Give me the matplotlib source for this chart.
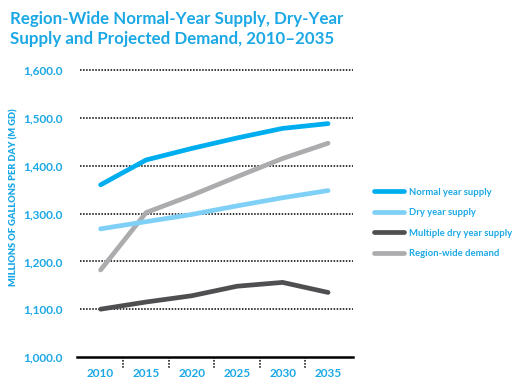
import matplotlib
matplotlib.use('Agg')
import matplotlib.pyplot as plt
from matplotlib.lines import Line2D

years = ['2010', '2015', '2020', '2025', '2030', '2035']
normal_year = [1360, 1412, 1436, 1458, 1478, 1488]
dry_year = [1268, 1283, 1298, 1316, 1333, 1348]
multi_dry_year = [1100, 1115, 1128, 1148, 1156, 1135]
region_demand = [1182, 1302, 1338, 1377, 1415, 1447]

series_names = ['Normal year supply', 'Dry year supply',
                'Multiple dry year supply', 'Region-wide demand']
colors = ['#00aeef', '#7fd0f6', '#4f4f51', '#acacae']
blue = '#1ba8e5'

plt.rcParams['font.family'] = ['Lato', 'DejaVu Sans']

fig = plt.figure(figsize=(5.2, 3.87), dpi=100)
ax = fig.add_axes([0.148, 0.0775, 0.531, 0.7415])

x = list(range(len(years)))
# draw demand first so the blue lines sit on top like the original
order = [3, 2, 1, 0]
data = [normal_year, dry_year, multi_dry_year, region_demand]
for i in order:
    ax.plot(x, data[i], color=colors[i], lw=3.4, solid_capstyle='round', zorder=3)

ax.set_xlim(-0.52, 5.55)
ax.set_ylim(1000, 1600)
ax.set_yticks(range(1000, 1601, 100))
ax.set_yticklabels(['{:,.1f}'.format(v) for v in range(1000, 1601, 100)])
ax.set_xticks(x)
ax.set_xticklabels(years)

for v in range(1100, 1601, 100):
    ax.plot([-0.45, 5.55], [v, v], color='black', lw=1.1, ls=(0, (1, 1)),
            zorder=1, clip_on=False)

for s in ['top', 'right', 'left']:
    ax.spines[s].set_visible(False)
ax.spines['bottom'].set_linewidth(1.8)

ax.tick_params(axis='both', length=0, colors=blue)
ax.tick_params(axis='x', pad=8)
ax.tick_params(axis='y', pad=10)
for lab in ax.get_xticklabels() + ax.get_yticklabels():
    lab.set_fontweight('bold')
    lab.set_fontsize(8.5)

# dotted separators below the axis between the years
for m in [0.5, 1.5, 2.5, 3.5, 4.5]:
    ax.plot([m, m], [1000, 975], color='black', lw=1.1, ls=(0, (1, 1)),
            clip_on=False, zorder=2)

fig.text(0.027, 0.49, 'MILLIONS OF GALLONS PER DAY (M GD)', rotation=90,
         color=blue, fontsize=6.7, fontweight='heavy', ha='center', va='center')

fig.text(0.02, 0.972, 'Region-Wide Normal-Year Supply, Dry-Year\nSupply and Projected Demand, 2010\u20132035',
         color=blue, fontsize=12.2, fontweight='bold', ha='left', va='top',
         linespacing=1.35)

handles = [Line2D([0], [0], color=c, lw=3.4, solid_capstyle='round') for c in colors]
leg = fig.legend(handles, series_names, loc='upper left',
                 bbox_to_anchor=(0.703, 0.537), frameon=False,
                 handlelength=3.2, handletextpad=0.5, labelspacing=1.22,
                 prop={'weight': 'bold', 'size': 6.8})
for t in leg.get_texts():
    t.set_color(blue)

fig.savefig('out.png', dpi=100)
